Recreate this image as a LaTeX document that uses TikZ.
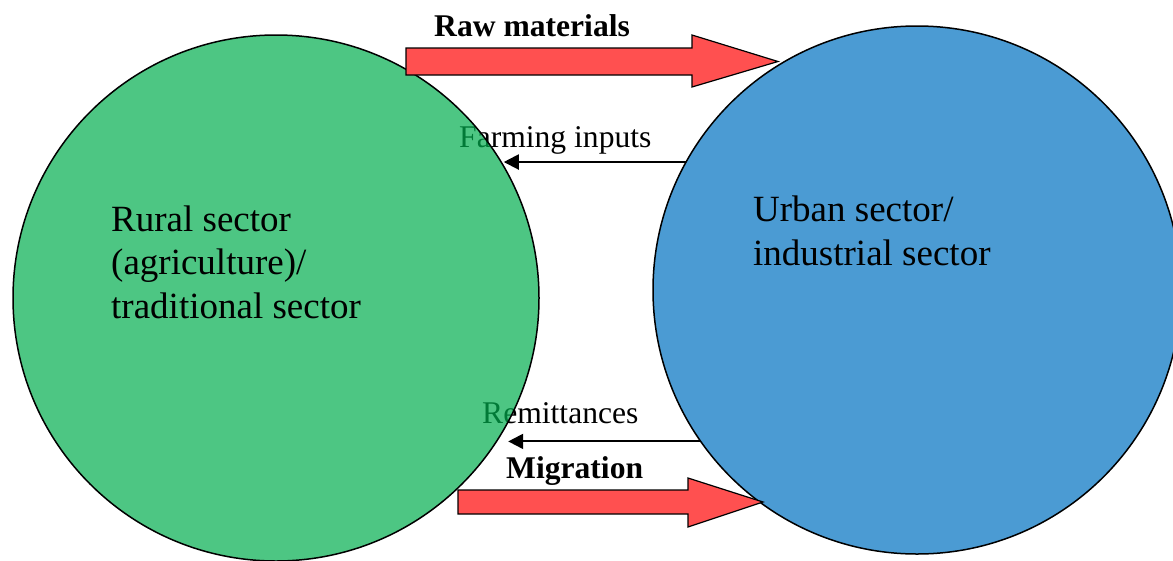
\documentclass[tikz,border=0pt]{standalone}
\usepackage{fontspec}
\setmainfont{Liberation Serif}
\usetikzlibrary{arrows.meta}
\definecolor{ruralfill}{RGB}{2,174,79}
\definecolor{urbanfill}{RGB}{75,155,211}
\definecolor{flowred}{RGB}{255,80,80}
\tikzset{
  sector/.style={circle, draw=black, line width=1.5pt, inner sep=0pt, outer sep=0pt},
  bodytext/.style={font=\fontsize{37}{43.5}\selectfont, inner sep=0pt, anchor=base west, align=left},
  flowlabel/.style={font=\fontsize{31.6}{38}\selectfont, inner sep=0pt, anchor=base west},
  boldlabel/.style={font=\fontsize{31.6}{38}\selectfont\bfseries, inner sep=0pt, anchor=base west},
  blockarrow/.style={fill=flowred, draw=black, line width=1.2pt, line join=miter},
  thinflow/.style={draw=black, line width=2pt, -{Triangle[length=15pt, width=15pt]}}
}
\begin{document}
\begin{tikzpicture}[x=1pt, y=-1pt]
\useasboundingbox (0,0) rectangle (1173,560);
% labels that lie partly under the translucent green circle
\node[flowlabel] (farmlbl) at (459,147) {Farming inputs};
\node[flowlabel] (remitlbl) at (482,423) {Remittances};
% sectors
\node[sector, fill=urbanfill, minimum size=528pt] (urban) at (917,290) {};
\node[sector, fill=ruralfill, fill opacity=0.7, minimum size=526pt] (rural) at (276,298) {};
% thin flows
\draw[thinflow] (urban.151.2) -- (urban.151.2 -| rural.30.5);
\draw[thinflow] (urban.215.1) -- (urban.215.1 -| rural.-28.6);
% block arrows
\draw[blockarrow] (406,48) -- (692,48) -- (692,35) -- (778,61.5) -- (692,87) -- (692,75) -- (406,75) -- cycle;
\draw[blockarrow] (458,490) -- (688,490) -- (688,478) -- (763,502) -- (688,527) -- (688,514) -- (458,514) -- cycle;
% texts
\node[boldlabel] (rawlbl) at (434,36) {Raw materials};
\node[boldlabel] (miglbl) at (506,478) {Migration};
\node[bodytext] (ruraltxt) at (111,318) {Rural sector\\(agriculture)/\\traditional sector};
\node[bodytext] (urbantxt) at (753,265) {Urban sector/\\industrial sector};
\end{tikzpicture}
\end{document}
